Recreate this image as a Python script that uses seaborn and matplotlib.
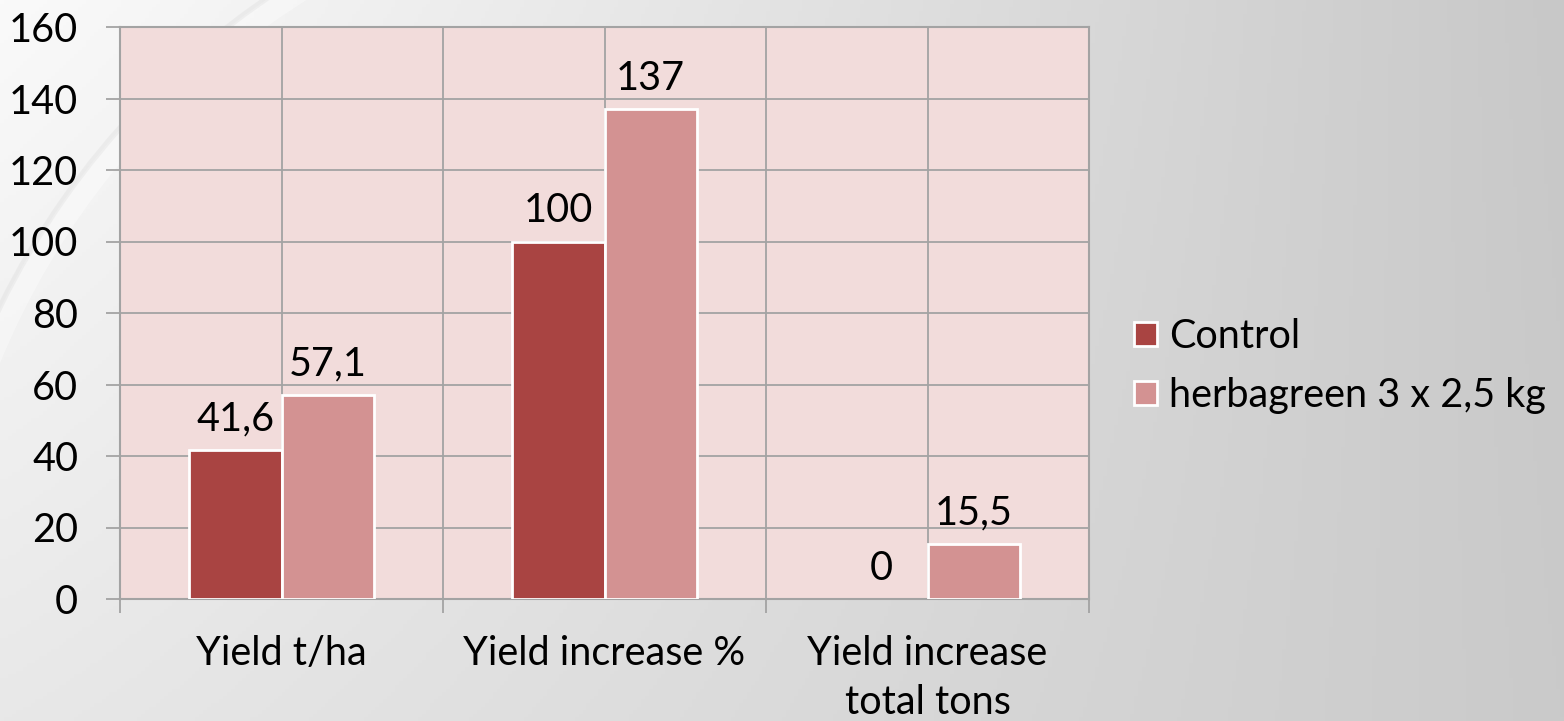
import numpy as np
import pandas as pd
import matplotlib
matplotlib.use("Agg")
import matplotlib.pyplot as plt
from matplotlib.patches import Arc
import seaborn as sns

# Data
categories = ["Yield t/ha", "Yield increase %", "Yield increase\ntotal tons"]
series_names = ["Control", "herbagreen 3 x 2,5 kg"]
control_values = [41.6, 100, 0]
herbagreen_values = [57.1, 137, 15.5]
y_ticks = [0, 20, 40, 60, 80, 100, 120, 140, 160]

colors = ["#A94442", "#D39292"]
plot_bg = "#F2DCDB"
grid_color = "#A3A3A3"
fs = 28.5

df = pd.DataFrame({
    "category": categories * 2,
    "series": [series_names[0]] * 3 + [series_names[1]] * 3,
    "value": control_values + herbagreen_values,
})

sns.set_theme(style="white")
plt.rcParams["font.family"] = ["Lato", "DejaVu Sans"]
plt.rcParams["text.color"] = "black"
plt.rcParams["xtick.labelcolor"] = "black"
plt.rcParams["ytick.labelcolor"] = "black"

W, H = 1564, 721
fig = plt.figure(figsize=(W / 100, H / 100), dpi=100)

# Soft grey slide background with a faint swoosh
bg = fig.add_axes([0, 0, 1, 1], zorder=-10)
xs = np.linspace(0, 1, 400)
ys = np.linspace(0, 1, 200)
X, Y = np.meshgrid(xs, ys)
top = 250 - 50 * X ** 1.1
bottom = 232 - 30 * X ** 1.1
V = top * (1 - Y) + bottom * Y
img = np.dstack([V, V, V]) / 255.0
bg.imshow(img, aspect="auto", extent=[0, W, H, 0])
bg.add_patch(Arc((720, 660), 2 * 790, 2 * 790, theta1=180, theta2=250,
                 color="white", lw=16, alpha=0.35))
bg.add_patch(Arc((720, 660), 2 * 802, 2 * 802, theta1=180, theta2=250,
                 color="#b0b0b0", lw=4, alpha=0.12))
bg.set_xlim(0, W)
bg.set_ylim(H, 0)
bg.set_axis_off()

ax = fig.add_axes([120 / W, 1 - 599 / H, (1089 - 120) / W, (599 - 27) / H])
ax.set_facecolor(plot_bg)

sns.barplot(data=df, x="category", y="value", hue="series",
            palette=colors, width=0.57, saturation=1, gap=0,
            edgecolor="white", linewidth=2, ax=ax, zorder=3, legend=True)

# Zero-height bars leave no visible outline
for cont in ax.containers:
    for patch in cont:
        if patch.get_height() == 0:
            patch.set_linewidth(0)

ax.set_ylim(0, 160)
ax.set_xlim(-0.5, 2.5)
ax.set_yticks(y_ticks)
ax.set_yticklabels([str(t) for t in y_ticks], fontsize=fs)
ax.set_xticks(range(len(categories)))
ax.set_xticklabels(categories, fontsize=fs, linespacing=1.38)
ax.set_xticks([-0.5, 0.5, 1.5, 2.5], minor=True)
ax.set_xlabel("")
ax.set_ylabel("")

ax.tick_params(axis="x", which="major", length=0, pad=26)
ax.tick_params(axis="x", which="minor", length=10, width=1.3, color=grid_color, bottom=True)
ax.tick_params(axis="y", which="major", length=10, width=1.3, color=grid_color, left=True, pad=20)

# Grid lines on both axes
ax.grid(True, axis="y", color=grid_color, linewidth=1.3, zorder=0)
for xv in [-0.5, 0, 0.5, 1, 1.5, 2, 2.5]:
    ax.axvline(xv, color=grid_color, linewidth=1.3, zorder=1)
ax.set_axisbelow(True)
for s in ax.spines.values():
    s.set_visible(True)
    s.set_color(grid_color)
    s.set_linewidth(1.5)

# Value labels with decimal commas
for cont, vals in zip(ax.containers, [control_values, herbagreen_values]):
    labels = [f"{v:g}".replace(".", ",") for v in vals]
    ax.bar_label(cont, labels=labels, padding=9, fontsize=fs, color="black")

handles, labels = ax.get_legend_handles_labels()
ax.get_legend().remove()
fig.legend(handles, labels, loc="center left", bbox_to_anchor=(1118 / W, 1 - 366 / H),
           frameon=False, fontsize=fs, handlelength=0.58, handleheight=0.58,
           handletextpad=0.3, labelspacing=0.55, borderaxespad=0)

fig.savefig("out.png", dpi=100)
